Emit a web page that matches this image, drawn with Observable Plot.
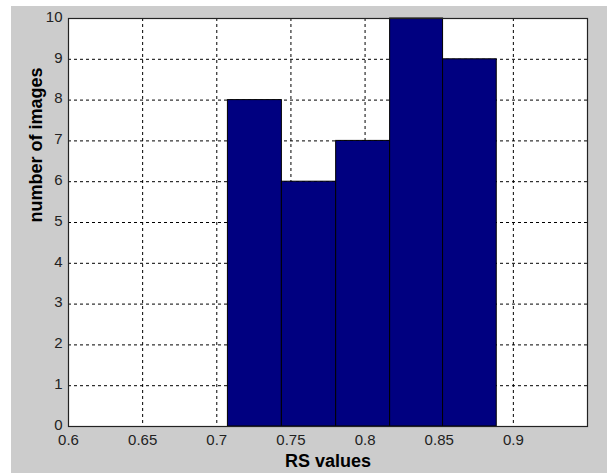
<!DOCTYPE html>
<html><head><meta charset="utf-8">
<script src="https://cdn.jsdelivr.net/npm/d3@7"></script>
<script src="https://cdn.jsdelivr.net/npm/@observablehq/plot@0.6"></script>
<style>
body{margin:0;background:#fff;}
#wrap{position:relative;width:607px;height:473px;overflow:hidden;}
#bg{position:absolute;left:11px;top:6px;right:0;bottom:0;background:#cccccc;}
#chart{position:absolute;left:0;top:0;}
</style></head><body>
<div id="wrap"><div id="bg"></div><div id="chart"></div></div>
<script>
const binEdges = [0.7075, 0.7439, 0.7805, 0.8169, 0.8526, 0.8888];
const counts = [8, 6, 7, 10, 9];
const xTicks = [0.6, 0.65, 0.7, 0.75, 0.8, 0.85, 0.9];
const yTicks = [0, 1, 2, 3, 4, 5, 6, 7, 8, 9, 10];
const xLabel = "RS values";
const yLabel = "number of images";

const bars = counts.map((c, i) => ({x1: binEdges[i], x2: binEdges[i + 1], y: c}));

const chart = Plot.plot({
  width: 607,
  height: 473,
  marginLeft: 68,
  marginTop: 18,
  marginRight: 20,
  marginBottom: 47,
  style: {background: "transparent", fontFamily: "'Liberation Sans', Arial, sans-serif", fontSize: "15px", color: "#222"},
  x: {domain: [0.6, 0.95], label: null},
  y: {domain: [0, 10], label: null},
  marks: [
    Plot.frame({fill: "white", stroke: "none"}),
    Plot.gridX(xTicks.slice(1), {stroke: "#000", strokeOpacity: 1, strokeDasharray: "3,3"}),
    Plot.gridY(yTicks.slice(1, -1), {stroke: "#000", strokeOpacity: 1, strokeDasharray: "3,3"}),
    Plot.rectY(bars, {x1: "x1", x2: "x2", y: "y", fill: "#000080", stroke: "#000", strokeWidth: 1}),
    Plot.frame({stroke: "#222", strokeWidth: 1.2}),
    Plot.axisX(xTicks, {tickSize: 0, tickPadding: 8, tickFormat: d => String(d), label: null, fontSize: 15}),
    Plot.axisY(yTicks, {tickSize: 0, tickPadding: 6, dy: -1.5, label: null, fontSize: 15}),
    Plot.text([xLabel], {frameAnchor: "bottom", lineAnchor: "middle", dy: 35, fontWeight: "bold", fontSize: 18, fill: "#000"}),
    Plot.text([yLabel], {frameAnchor: "left", lineAnchor: "middle", rotate: -90, dx: -32, fontWeight: "bold", fontSize: 18, fill: "#000"})
  ]
});
document.getElementById("chart").appendChild(chart);
</script>
</body></html>
